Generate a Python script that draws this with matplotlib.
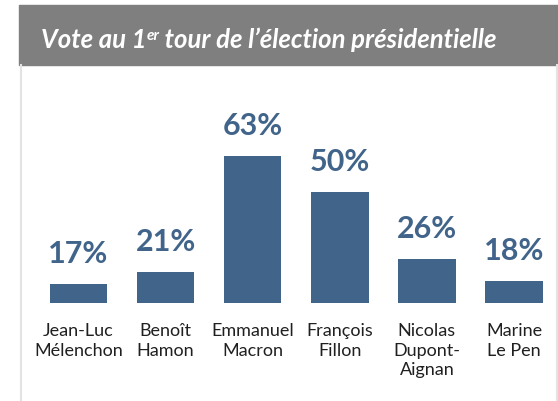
import matplotlib
matplotlib.use("Agg")
import matplotlib.pyplot as plt
from matplotlib.patches import Rectangle
from matplotlib.lines import Line2D

plt.rcParams["font.family"] = ["Lato", "DejaVu Sans"]

# Data
candidates = ["Jean-Luc\nMélenchon", "Benoît\nHamon", "Emmanuel\nMacron",
              "François\nFillon", "Nicolas\nDupont-\nAignan", "Marine\nLe Pen"]
votes = [17, 21, 63, 50, 26, 18]

bar_color = "#41648a"
W, H = 558, 402
fig = plt.figure(figsize=(W / 100, H / 100), dpi=100)
fig.patch.set_facecolor("white")

# Title bar and panel borders (pixel coords -> figure fraction)
fig.patches.append(Rectangle((19 / W, 1 - 66 / H), (W - 19) / W, 60 / H,
                             transform=fig.transFigure, color="#7f7f7f", zorder=0))
for xp in (20.5, 556.5):
    fig.lines.append(Line2D([xp / W, xp / W], [0, 1 - 66 / H], transform=fig.transFigure,
                            color="#e3e3e3", linewidth=1.5))

# Title with superscript
tsize = 18.5
parts = [("Vote au 1", tsize, 0), ("er", tsize * 0.6, 8), (" tour de l\u2019élection présidentielle", tsize, 0)]
base_y = 1 - 48 / H
texts = []
for s, size, rise in parts:
    texts.append(fig.text(0, base_y + rise / H, s, color="white", fontsize=size,
                          fontweight="bold", fontstyle="italic", va="baseline", ha="left"))
fig.canvas.draw()
r = fig.canvas.get_renderer()
widths = [t.get_window_extent(r).width for t in texts]
x = 269 - sum(widths) / 2
for t, w in zip(texts, widths):
    t.set_x(x / W)
    x += w

# Bars
ax = fig.add_axes([34.95 / W, 98 / H, 522.6 / W, 194.6 / H])
xs = range(len(votes))
ax.bar(xs, votes, width=0.66, bottom=0, color=bar_color)
ax.set_xlim(-0.5, 5.5)
ax.set_ylim(10, 80)
ax.axis("off")

for i, v in enumerate(votes):
    ax.annotate(f"{v}%", (i, v), xytext=(0, 22 * 0.72), textcoords="offset points",
                ha="center", va="baseline", fontsize=22, fontweight="bold", color=bar_color)
    ax.annotate(candidates[i], (i, 10), xytext=(0, -19 * 0.72), textcoords="offset points",
                ha="center", va="top", fontsize=13, color="#202020",
                linespacing=1.27, annotation_clip=False)

fig.savefig("out.png", dpi=100)
